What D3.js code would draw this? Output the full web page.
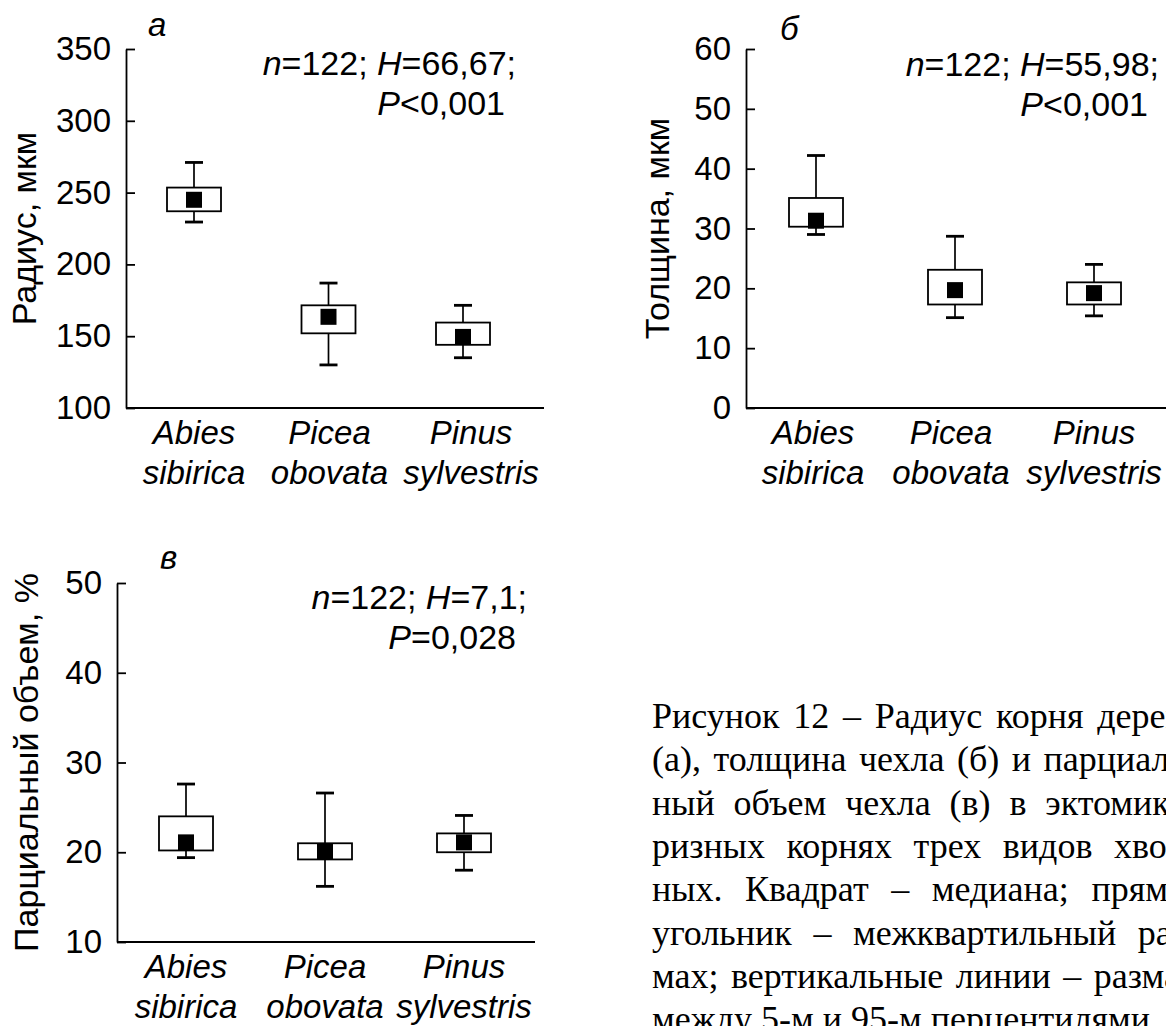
<!DOCTYPE html>
<html>
<head>
<meta charset="utf-8" />
<title>Рисунок 12</title>
<style>
  body { margin: 0; background: #fff; }
  svg { display: block; }
  .sans { font-family: "Liberation Sans", Arial, sans-serif; }
  .caption { font-family: "Liberation Serif", "Times New Roman", serif; font-size: 36px; }
</style>
</head>
<body>
<div id="fig"></div>
<script src="https://cdnjs.cloudflare.com/ajax/libs/d3/7.8.5/d3.min.js"></script>
<script>
// species, two-line labels under each box
var speciesGenus = ["Abies", "Picea", "Pinus"];
var speciesEpithet = ["sibirica", "obovata", "sylvestris"];

// а: root radius, um  (5th pct, Q1, median, Q3, 95th pct)
var radiusP5  = [229.5, 130, 135];
var radiusQ1  = [237, 152, 144];
var radiusMed = [245, 163.5, 149.5];
var radiusQ3  = [253.5, 171.5, 159.5];
var radiusP95 = [271, 187, 171.5];
var radiusTicks = [100, 150, 200, 250, 300, 350];
var radiusStats = ["n=122; H=66,67;", "P<0,001"];

// б: mantle thickness, um
var thickP5  = [29, 15.1, 15.4];
var thickQ1  = [30.3, 17.3, 17.3];
var thickMed = [31.3, 19.7, 19.2];
var thickQ3  = [35.1, 23.1, 21];
var thickP95 = [42.2, 28.7, 24];
var thickTicks = [0, 10, 20, 30, 40, 50, 60];
var thickStats = ["n=122; H=55,98;", "P<0,001"];

// в: mantle partial volume, %
var volP5  = [19.4, 16.2, 18];
var volQ1  = [20.2, 19.2, 20];
var volMed = [21.1, 20.1, 21.1];
var volQ3  = [24, 21, 22.1];
var volP95 = [27.6, 26.6, 24.1];
var volTicks = [10, 20, 30, 40, 50];
var volStats = ["n=122; H=7,1;", "P=0,028"];

var captionLines = [
  "Рисунок 12 – Радиус корня дерева",
  "(а), толщина чехла (б) и парциаль-",
  "ный объем чехла (в) в эктомико-",
  "ризных корнях трех видов хвой-",
  "ных. Квадрат – медиана; прямо-",
  "угольник – межквартильный раз-",
  "мах; вертикальные линии – размах",
  "между 5-м и 95-м перцентилями."
];

var W = 1166, H = 1026, FS = 33, FS2 = 34;

var svg = d3.select("#fig").append("svg")
    .attr("width", W)
    .attr("height", H)
    .attr("class", "sans");
svg.append("rect").attr("width", W).attr("height", H).attr("fill", "#fff");

var panels = [
  { letter: "а", title: "Радиус, мкм", x0: 126, top: 49, h: 359, w: 418,
    domain: [100, 350], ticks: radiusTicks, stats: radiusStats,
    p5: radiusP5, q1: radiusQ1, med: radiusMed, q3: radiusQ3, p95: radiusP95,
    catRange: [68, 337], labShift: [0, 1, 8],
    letterX: 22, letterY: -13, titleX: -90, statsX: 390, statsY: 26 },
  { letter: "б", title: "Толщина, мкм", x0: 746, top: 49, h: 359, w: 430,
    domain: [0, 60], ticks: thickTicks, stats: thickStats,
    p5: thickP5, q1: thickQ1, med: thickMed, q3: thickQ3, p95: thickP95,
    catRange: [70, 348], labShift: [-3, -4, 0],
    letterX: 34, letterY: -9, titleX: -77, statsX: 413, statsY: 27 },
  { letter: "в", title: "Парциальный объем, %", x0: 117, top: 583, h: 359, w: 418,
    domain: [10, 50], ticks: volTicks, stats: volStats,
    p5: volP5, q1: volQ1, med: volMed, q3: volQ3, p95: volP95,
    catRange: [69, 347], labShift: [0, 0, 0],
    letterX: 43, letterY: -14, titleX: -79, statsX: 410, statsY: 26 }
];

// italic n, H, P in the test statistics
function statLine(sel, str) {
  str.split(/([nHP])(?=[=<])/).forEach(function (part) {
    if (!part) return;
    sel.append("tspan")
      .attr("font-style", /^[nHP]$/.test(part) ? "italic" : null)
      .text(part);
  });
}

panels.forEach(function (p) {
  var g = svg.append("g").attr("transform", "translate(" + p.x0 + "," + p.top + ")");

  var y = d3.scaleLinear().domain(p.domain).range([p.h, 0]);
  var x = d3.scalePoint().domain(speciesGenus).range(p.catRange);

  var rows = speciesGenus.map(function (s, i) {
    return { s: s, ep: speciesEpithet[i], shift: p.labShift[i],
             p5: p.p5[i], q1: p.q1[i], med: p.med[i], q3: p.q3[i], p95: p.p95[i] };
  });

  // y axis, ticks pointing inward
  var yAxis = d3.axisLeft(y)
      .tickValues(p.ticks)
      .tickSizeInner(-9)
      .tickSizeOuter(0)
      .tickPadding(15)
      .tickFormat(d3.format("d"));
  var ya = g.append("g").call(yAxis);
  ya.attr("font-size", FS).attr("font-family", null);
  ya.select(".domain").attr("stroke", "#000").attr("stroke-width", 1.8);
  ya.selectAll(".tick line").attr("stroke", "#000").attr("stroke-width", 1.8);
  ya.selectAll(".tick text").attr("fill", "#000");

  // x axis line
  g.append("line")
    .attr("x1", 0).attr("x2", p.w)
    .attr("y1", p.h).attr("y2", p.h)
    .attr("stroke", "#000").attr("stroke-width", 1.8);

  // category labels
  var lab = g.selectAll(".cat").data(rows).join("text")
    .attr("class", "cat")
    .attr("font-size", FS)
    .attr("font-style", "italic")
    .attr("text-anchor", "middle");
  lab.append("tspan").attr("x", function (d) { return x(d.s) + d.shift; }).attr("y", p.h + 36).text(function (d) { return d.s; });
  lab.append("tspan").attr("x", function (d) { return x(d.s) + d.shift; }).attr("y", p.h + 76).text(function (d) { return d.ep; });

  var box = g.selectAll(".box").data(rows).join("g").attr("class", "box");

  // whisker 5-95 percentile
  box.append("line")
    .attr("x1", function (d) { return x(d.s); }).attr("x2", function (d) { return x(d.s); })
    .attr("y1", function (d) { return y(d.p5); }).attr("y2", function (d) { return y(d.p95); })
    .attr("stroke", "#000").attr("stroke-width", 1.7);
  ["p5", "p95"].forEach(function (k) {
    box.append("line")
      .attr("x1", function (d) { return x(d.s) - 9; }).attr("x2", function (d) { return x(d.s) + 9; })
      .attr("y1", function (d) { return y(d[k]); }).attr("y2", function (d) { return y(d[k]); })
      .attr("stroke", "#000").attr("stroke-width", 2.8);
  });

  // interquartile box
  box.append("rect")
    .attr("x", function (d) { return x(d.s) - 27; })
    .attr("width", 54)
    .attr("y", function (d) { return y(d.q3); })
    .attr("height", function (d) { return y(d.q1) - y(d.q3); })
    .attr("fill", "#fff").attr("stroke", "#000").attr("stroke-width", 1.8);

  // median square
  box.append("rect")
    .attr("x", function (d) { return x(d.s) - 8; })
    .attr("y", function (d) { return y(d.med) - 8; })
    .attr("width", 16).attr("height", 16)
    .attr("fill", "#000");

  // panel letter
  g.append("text")
    .attr("x", p.letterX).attr("y", p.letterY)
    .attr("font-size", FS).attr("font-style", "italic")
    .text(p.letter);

  // axis title
  g.append("text")
    .attr("transform", "translate(" + p.titleX + "," + (p.h / 2) + ") rotate(-90)")
    .attr("text-anchor", "middle")
    .attr("font-size", FS2)
    .text(p.title);

  // statistics
  var st1 = g.append("text").attr("x", p.statsX).attr("y", p.statsY)
    .attr("font-size", FS2).attr("text-anchor", "end");
  statLine(st1, p.stats[0]);
  var st2 = g.append("text").attr("x", p.statsX - 11).attr("y", p.statsY + 40)
    .attr("font-size", FS2).attr("text-anchor", "end");
  statLine(st2, p.stats[1]);
});

// caption, justified like the source page (runs past the right edge there too)
var capX = 652, capY = 728, capLH = 43.3, capW = 546;
var cap = svg.append("g").attr("class", "caption");
var probe = cap.append("text").attr("visibility", "hidden");
function wordWidth(w) { probe.text(w); return probe.node().getComputedTextLength(); }

captionLines.forEach(function (line, i) {
  var t = cap.append("text").attr("y", capY + i * capLH);
  var words = line.split(" ");
  var widths = words.map(wordWidth);
  var last = i === captionLines.length - 1;
  var space = wordWidth("\u00a0");
  var gap = last ? space : Math.max(space * 0.8, (capW - d3.sum(widths)) / (words.length - 1));
  var xx = capX;
  words.forEach(function (w, j) {
    t.append("tspan").attr("x", xx).text(w);
    xx += widths[j] + gap;
  });
});
probe.remove();
</script>
</body>
</html>
